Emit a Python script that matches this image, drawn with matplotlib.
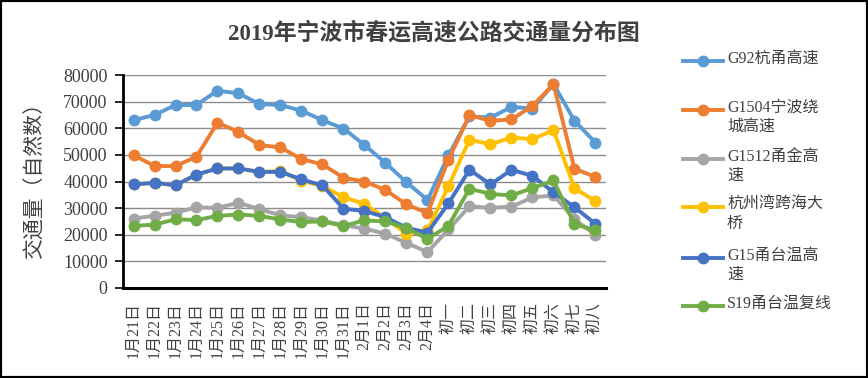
import matplotlib
matplotlib.use("Agg")
import matplotlib.pyplot as plt
from matplotlib.lines import Line2D
from matplotlib.patches import Rectangle

plt.rcParams["font.family"] = ["Liberation Serif", "Noto Sans CJK SC"]

days = [
    "1月21日", "1月22日", "1月23日", "1月24日", "1月25日", "1月26日",
    "1月27日", "1月28日", "1月29日", "1月30日", "1月31日",
    "2月1日", "2月2日", "2月3日", "2月4日",
    "初一", "初二", "初三", "初四", "初五", "初六", "初七", "初八",
]

g92 = [63000, 65000, 68700, 68800, 74100, 73100, 69100, 68700, 66600, 63000, 59900,
       53700, 47000, 39700, 33100, 49800, 64500, 64000, 68000, 67400, 76600, 62800, 54600]
g1504 = [49900, 45800, 45800, 49300, 62100, 58600, 53700, 52800, 48400, 46400, 41400,
         40000, 36800, 31400, 28100, 48200, 64900, 62800, 63300, 68400, 76600, 44800, 41700]
g1512 = [26100, 27100, 28300, 30300, 30100, 32000, 29600, 27300, 26600, 25300, 23600,
         22300, 20400, 16900, 13500, 22000, 30700, 30100, 30600, 34000, 34800, 25800, 19900]
hzw_bridge = [38900, 39500, 38600, 42600, 44900, 44900, 43600, 43900, 40300, 38300, 34100,
              31600, 26200, 20400, 21600, 38300, 55700, 54000, 56500, 55900, 59300, 37500, 32600]
g15 = [38900, 39500, 38600, 42600, 44900, 44900, 43600, 43600, 40800, 38500, 29800,
       28900, 26600, 22600, 20800, 31800, 44400, 38900, 44400, 42100, 36000, 30300, 24100]
s19 = [23300, 23800, 25800, 25500, 27100, 27600, 27100, 25700, 24800, 25000, 23300,
       25400, 25000, 22500, 18400, 23400, 37300, 35300, 34800, 37500, 40400, 24000, 21600]

series = [g92, g1504, g1512, hzw_bridge, g15, s19]
legend_labels = [
    "G92杭甬高速",
    "G1504宁波绕\n城高速",
    "G1512甬金高\n速",
    "杭州湾跨海大\n桥",
    "G15甬台温高\n速",
    "S19甬台温复线",
]
colors = ["#5B9BD5", "#ED7D31", "#A5A5A5", "#FFC000", "#4472C4", "#70AD47"]

fig = plt.figure(figsize=(8.68, 3.78), dpi=100)
ax = fig.add_axes([123 / 868, 90 / 378, 483 / 868, 213 / 378])

x = list(range(len(days)))
for values, color in zip(series, colors):
    ax.plot(x, values, color=color, linewidth=2.8, marker="o", markersize=7.5)

ax.set_xlim(-0.5, len(days) - 0.5)
ax.set_ylim(0, 80000)
ax.set_yticks(range(0, 80001, 10000))
ax.set_xticks(x)
ax.set_xticklabels(days, rotation=90, fontsize=11.5, color="#404040")
ax.tick_params(axis="x", length=0, pad=10)
ax.tick_params(axis="y", length=6, width=1.2, pad=5, labelsize=13, labelcolor="#404040")
ax.grid(axis="y", color="#8c8c8c", linewidth=1)
ax.set_axisbelow(True)
for side in ["top", "right"]:
    ax.spines[side].set_visible(False)
ax.spines["left"].set_linewidth(2)
ax.spines["bottom"].set_linewidth(2.2)

ax.set_ylabel("交通量（自然数）", fontsize=15, color="#404040")
ax.yaxis.set_label_coords(-0.16, 0.53)

fig.suptitle("2019年宁波市春运高速公路交通量分布图", y=1 - 33 / 378, va="center",
             fontsize=16.5, fontweight="bold", color="#404040")

# legend drawn by hand so two-line labels line up like the original
legend_rows = [61, 110, 159, 207, 258, 306]
for label, color, row in zip(legend_labels, colors, legend_rows):
    yf = 1 - row / 378
    fig.add_artist(Line2D([683 / 868, 723 / 868], [yf, yf], color=color, linewidth=2.8,
                          transform=fig.transFigure))
    fig.add_artist(Line2D([703 / 868], [yf], color=color, marker="o", markersize=7.5,
                          transform=fig.transFigure))
    fig.text(727 / 868, 1 - (row - 10) / 378, label, va="top", ha="left",
             fontsize=11.5, linespacing=1.25, color="#404040")

fig.patches.append(Rectangle((0, 0), 1, 1, transform=fig.transFigure, fill=False,
                             edgecolor="black", linewidth=3))

fig.savefig("out.png", dpi=100)
